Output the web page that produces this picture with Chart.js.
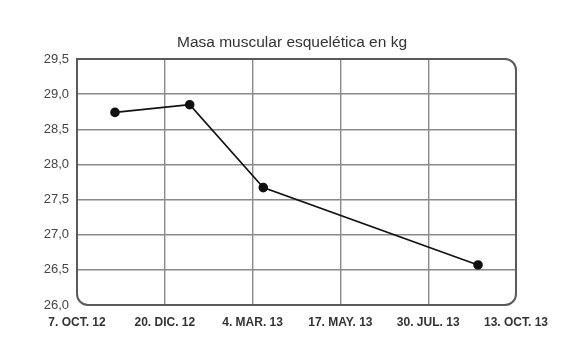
<!DOCTYPE html>
<html>
<head>
<meta charset="utf-8">
<script src="https://cdn.jsdelivr.net/npm/chart.js@4.4.1/dist/chart.umd.min.js"></script>
<style>
  html, body { margin: 0; padding: 0; background: #fff; }
  #wrap { width: 570px; height: 360px; }
</style>
</head>
<body>
<div id="wrap"><canvas id="masa" width="570" height="360"></canvas></div>
<script>
// tick labels on the x axis, one every 74 days starting 7 Oct 2012
const dateLabels = ["7. OCT. 12", "20. DIC. 12", "4. MAR. 13", "17. MAY. 13", "30. JUL. 13", "13. OCT. 13"];
const tickStepDays = 74;
// measurements: days after 7 Oct 2012 and kg
const measureDays = [32, 95, 157, 338];
const masaKg = [28.74, 28.85, 27.67, 26.57];
const yTicks = [26.0, 26.5, 27.0, 27.5, 28.0, 28.5, 29.0, 29.5];

const gridColor = (ctx) => {
  const n = ctx.scale.ticks.length;
  return (ctx.index === 0 || ctx.index === n - 1) ? "rgba(0,0,0,0)" : "#8a8a8a";
};

// rounded frame around the plot (top-left corner stays square)
const framePlugin = {
  id: "frame",
  afterDatasetsDraw(chart) {
    const { ctx, chartArea: a } = chart;
    const r = 11;
    ctx.save();
    ctx.strokeStyle = "#5a5a5a";
    ctx.lineWidth = 2;
    ctx.beginPath();
    ctx.moveTo(a.left, a.top);
    ctx.lineTo(a.right - r, a.top);
    ctx.arcTo(a.right, a.top, a.right, a.top + r, r);
    ctx.lineTo(a.right, a.bottom - r);
    ctx.arcTo(a.right, a.bottom, a.right - r, a.bottom, r);
    ctx.lineTo(a.left + r, a.bottom);
    ctx.arcTo(a.left, a.bottom, a.left, a.bottom - r, r);
    ctx.closePath();
    ctx.stroke();
    ctx.restore();
  }
};

window.addEventListener("load", function () {
  const ctx = document.getElementById("masa").getContext("2d");

  new Chart(ctx, {
    type: "line",
    data: {
      datasets: [{
        label: "Masa muscular esquelética",
        data: measureDays.map((d, i) => ({ x: d, y: masaKg[i] })),
        borderColor: "#111",
        backgroundColor: "#111",
        borderWidth: 1.6,
        pointRadius: 4,
        pointHoverRadius: 4,
        tension: 0,
      }],
    },
    options: {
      responsive: false,
      animation: false,
      layout: { padding: { left: 14, right: 0, top: 0, bottom: 0 } },
      plugins: {
        legend: { display: false },
        tooltip: { enabled: false },
        title: {
          display: true,
          text: "Masa muscular esquelética en kg",
          color: "#333",
          font: { family: "'Liberation Sans', Arial, sans-serif", size: 15.5, weight: "normal" },
          padding: { top: 33, bottom: 7.4 },
        },
      },
      scales: {
        x: {
          type: "linear",
          min: 0,
          max: tickStepDays * (dateLabels.length - 1),
          afterBuildTicks(scale) {
            scale.ticks = dateLabels.map((_, i) => ({ value: i * tickStepDays }));
          },
          afterFit(scale) { scale.height = 55; },
          grid: { color: gridColor, lineWidth: 1.4, drawTicks: false },
          border: { display: false },
          ticks: {
            padding: 10,
            maxRotation: 0,
            autoSkip: false,
            color: "#333",
            font: { family: "'Liberation Sans', Arial, sans-serif", size: 12, weight: "bold" },
            callback: (v) => dateLabels[Math.round(v / tickStepDays)],
          },
        },
        y: {
          min: yTicks[0],
          max: yTicks[yTicks.length - 1],
          afterBuildTicks(scale) {
            scale.ticks = yTicks.map((v) => ({ value: v }));
          },
          afterFit(scale) { scale.width = 63; },
          grid: { color: gridColor, lineWidth: 1.4, drawTicks: false },
          border: { display: false },
          ticks: {
            padding: 8,
            color: "#444",
            font: { family: "'Liberation Sans', Arial, sans-serif", size: 13 },
            callback: (v) => v.toFixed(1).replace(".", ","),
          },
        },
        // empty right-hand axis, only keeps space to the right of the plot
        yRight: {
          position: "right",
          min: yTicks[0],
          max: yTicks[yTicks.length - 1],
          afterFit(scale) { scale.width = 54; },
          grid: { display: false },
          border: { display: false },
          ticks: { display: false },
        },
      },
    },
    plugins: [framePlugin],
  });
});
</script>
</body>
</html>
